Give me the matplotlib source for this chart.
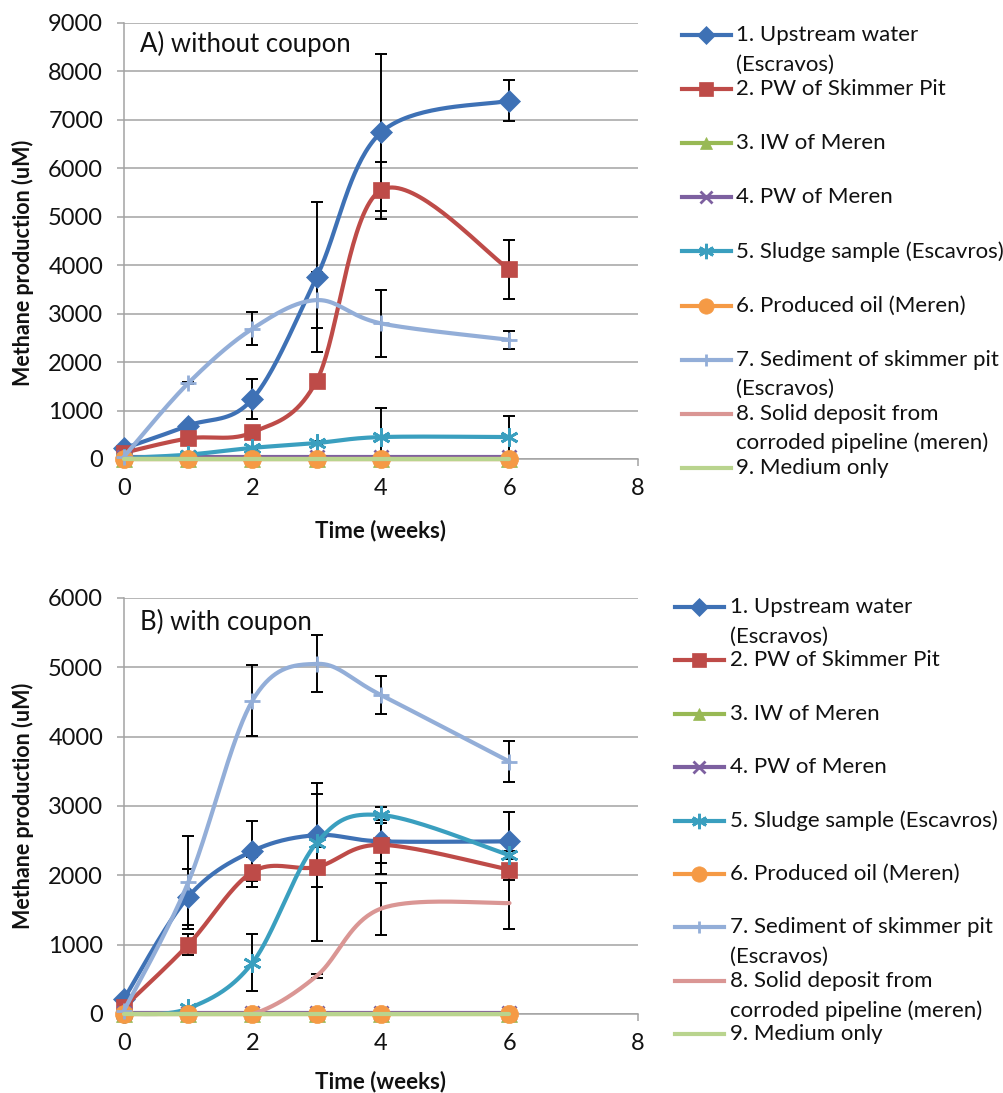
import numpy as np
import matplotlib.pyplot as plt
from matplotlib.lines import Line2D

plt.rcParams['font.family'] = ['Lato', 'DejaVu Sans']

weeks = [0, 1, 2, 3, 4, 6]
series_labels = [
    ["1. Upstream water", "(Escravos)"],
    ["2. PW of Skimmer Pit"],
    ["3. IW of Meren"],
    ["4. PW of Meren"],
    ["5. Sludge sample (Escavros)"],
    ["6. Produced oil (Meren)"],
    ["7. Sediment of skimmer pit", "(Escravos)"],
    ["8. Solid deposit from", "corroded pipeline (meren)"],
    ["9. Medium only"],
]

# A) without coupon, methane in uM
a_upstream = [220, 690, 1240, 3760, 6740, 7400]
a_upstream_sd = [40, 60, 410, 1545, 1625, 420]
a_pw_skimmer = [130, 425, 550, 1620, 5550, 3915]
a_pw_skimmer_sd = [30, 40, 60, 120, 590, 610]
a_iw_meren = [0, 0, 0, 0, 0, 0]
a_pw_meren = [40, 40, 40, 40, 40, 40]
a_sludge = [20, 90, 230, 330, 453, 453]
a_sludge_sd = [0, 10, 20, 40, 600, 440]
a_oil = [10, 10, 10, 10, 10, 10]
a_sediment = [50, 1565, 2690, 3280, 2800, 2460]
a_sediment_sd = [0, 20, 345, 580, 695, 185]
a_deposit = [0, 0, 0, 0, 0, 0]
a_medium = [0, 0, 0, 0, 0, 0]

# B) with coupon
b_upstream = [220, 1690, 2350, 2580, 2490, 2490]
b_upstream_sd = [30, 400, 430, 750, 310, 420]
b_pw_skimmer = [100, 1000, 2050, 2120, 2440, 2080]
b_pw_skimmer_sd = [20, 150, 220, 1060, 420, 150]
b_iw_meren = [0, 0, 0, 0, 0, 0]
b_pw_meren = [20, 20, 20, 20, 20, 20]
b_sludge = [0, 80, 740, 2470, 2870, 2290]
b_sludge_sd = [0, 10, 410, 60, 120, 60]
b_oil = [5, 5, 5, 5, 5, 5]
b_sediment = [50, 1900, 4520, 5050, 4600, 3640]
b_sediment_sd = [0, 670, 510, 410, 270, 300]
b_deposit = [0, 0, 0, 550, 1520, 1600]
b_deposit_sd = [0, 0, 0, 25, 375, 375]
b_medium = [0, 0, 0, 0, 0, 0]

colors = ['#3E71B5', '#BE4B48', '#98B954', '#7D60A0', '#3A9FBF',
          '#F59A45', '#93AED8', '#DA9694', '#B9D48E']
markers = ['D', 's', '^', 'x', (6, 2, 0), 'o', '+', None, None]
msizes = [11, 12, 11, 10, 13, 13, 11, 0, 0]

W, H = 1004, 1093
TXT = '#111111'


def px_box(left, top, right, bottom):
    return [left / W, 1 - bottom / H, (right - left) / W, (bottom - top) / H]


def smooth(x, y, n=40):
    # cubic bezier through the points, control points as in office smoothed lines
    pts = np.column_stack([x, y]).astype(float)
    out = [pts[:1]]
    t = np.linspace(0, 1, n)[1:, None]
    for i in range(len(pts) - 1):
        p0 = pts[i - 1] if i > 0 else pts[i]
        p1, p2 = pts[i], pts[i + 1]
        p3 = pts[i + 2] if i + 2 < len(pts) else p2
        c1 = p1 + (p2 - p0) / 6
        c2 = p2 - (p3 - p1) / 6
        seg = ((1 - t) ** 3) * p1 + 3 * ((1 - t) ** 2) * t * c1 \
            + 3 * (1 - t) * t ** 2 * c2 + t ** 3 * p2
        out.append(seg)
    out = np.vstack(out)
    return out[:, 0], out[:, 1]


def marker_edge(m):
    return 2 if m in ('x', '+', (6, 2, 0)) else 0.5


def draw_panel(ax, values, errors, ymax, title, title_y):
    for i, (vals, err) in enumerate(zip(values, errors)):
        z = 3 + i * 0.1
        if err is not None:
            ax.errorbar(weeks, vals, yerr=err, fmt='none', ecolor='black',
                        elinewidth=1.4, capsize=4.2, capthick=1.4, zorder=2.5)
        sx, sy = smooth(weeks, vals)
        # keep the curve inside the plot area, but let the stroke overhang the axis
        sy = np.clip(sy, 0, ymax)
        ax.plot(sx, sy, color=colors[i], lw=3, solid_capstyle='round',
                zorder=z, clip_on=False)
        if markers[i] is not None:
            ax.plot(weeks, vals, ls='none', marker=markers[i], ms=msizes[i],
                    color=colors[i], mec=colors[i], mew=marker_edge(markers[i]),
                    zorder=z + 0.05, clip_on=False)

    ax.set_xlim(0, 8)
    ax.set_ylim(0, ymax)
    ax.set_xticks([0, 2, 4, 6, 8])
    ax.set_yticks(np.arange(0, ymax + 1, 1000))
    ax.grid(axis='y', color='#A3A3A3', lw=1.1)
    ax.set_axisbelow(True)
    for s in ['top', 'right']:
        ax.spines[s].set_visible(False)
    for s in ['left', 'bottom']:
        ax.spines[s].set_color('#A3A3A3')
        ax.spines[s].set_linewidth(1.1)
    ax.tick_params(axis='both', length=5, width=1.1, color='#A3A3A3',
                   labelsize=17, labelcolor=TXT)
    ax.tick_params(axis='y', pad=10)
    ax.tick_params(axis='x', pad=9)
    ax.set_xlabel('Time (weeks)', fontsize=16, fontweight='bold', color=TXT)
    ax.set_ylabel('Methane production (uM)', fontsize=15.5, fontweight='bold',
                  color=TXT)
    ax.text(0.031, title_y, title, transform=ax.transAxes, fontsize=18.5,
            va='center', ha='left', color=TXT)


def draw_legend(lax, first_y, step, x0, x1, text_x):
    for i, lines in enumerate(series_labels):
        y = first_y + i * step
        lax.add_line(Line2D([x0, x1], [y, y], color=colors[i], lw=3))
        if markers[i] is not None:
            lax.add_line(Line2D([(x0 + x1) / 2], [y], ls='none', marker=markers[i],
                                ms=msizes[i] * 0.85, color=colors[i],
                                mec=colors[i], mew=marker_edge(markers[i])))
        for k, txt in enumerate(lines):
            lax.text(text_x, y + k * 29.5, txt, fontsize=16, va='center',
                     ha='left', color=TXT)


fig = plt.figure(figsize=(W / 100, H / 100), dpi=100)

axA = fig.add_axes(px_box(124, 23, 638, 459))
draw_panel(axA,
           [a_upstream, a_pw_skimmer, a_iw_meren, a_pw_meren, a_sludge,
            a_oil, a_sediment, a_deposit, a_medium],
           [a_upstream_sd, a_pw_skimmer_sd, None, None, a_sludge_sd,
            None, a_sediment_sd, None, None],
           9000, 'A) without coupon', 0.953)
axA.xaxis.set_label_coords(0.5, -0.163)
axA.xaxis.label.set_va('center')
axA.yaxis.set_label_coords(-0.196, 0.45)
axA.yaxis.label.set_va('center')

axB = fig.add_axes(px_box(124, 598, 638, 1014))
draw_panel(axB,
           [b_upstream, b_pw_skimmer, b_iw_meren, b_pw_meren, b_sludge,
            b_oil, b_sediment, b_deposit, b_medium],
           [b_upstream_sd, b_pw_skimmer_sd, None, None, b_sludge_sd,
            None, b_sediment_sd, b_deposit_sd, None],
           6000, 'B) with coupon', 0.942)
axB.xaxis.set_label_coords(0.5, -0.163)
axB.xaxis.label.set_va('center')
axB.yaxis.set_label_coords(-0.196, 0.5)
axB.yaxis.label.set_va('center')

# overlay in pixel units for the two legends
lax = fig.add_axes([0, 0, 1, 1], zorder=-1)
lax.set_xlim(0, W)
lax.set_ylim(H, 0)
lax.axis('off')
draw_legend(lax, 35, 54.1, 682, 731, 736)
draw_legend(lax, 607, 53.4, 675, 724, 730)

fig.savefig('out.png', dpi=100)
